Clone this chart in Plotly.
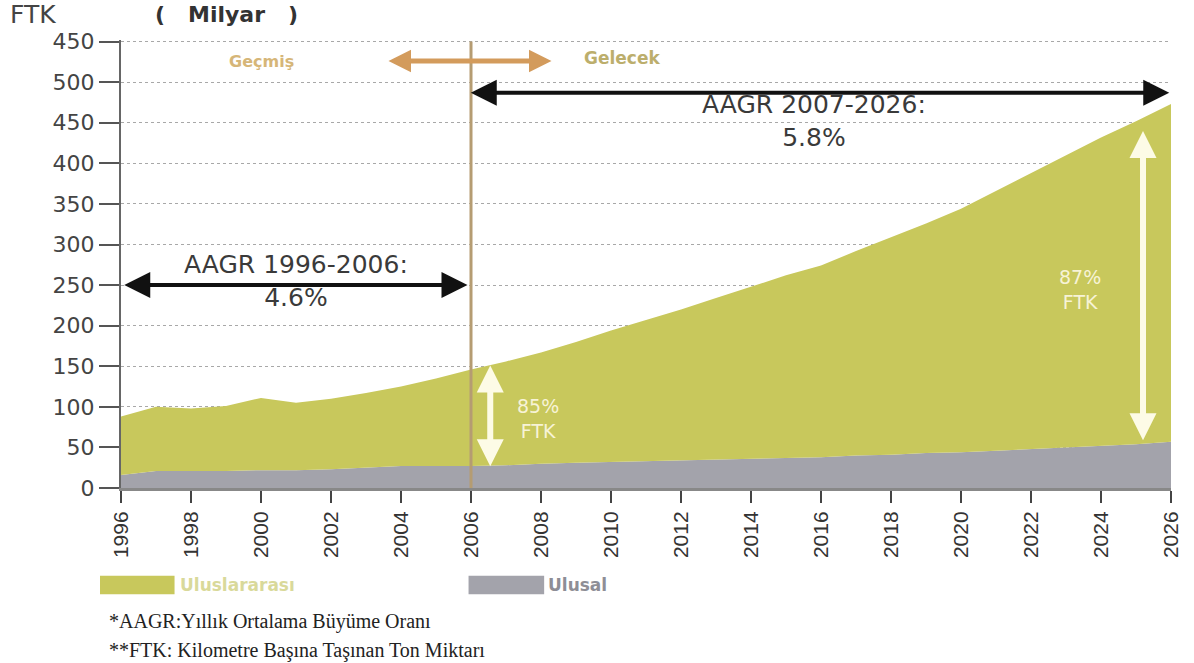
import plotly.graph_objects as go

years = list(range(1996, 2027))
ulusal = [16, 21, 21, 21, 22, 22, 23, 25, 27, 27, 27, 28, 30, 31, 32, 33, 34, 35,
          36, 37, 38, 40, 41, 43, 44, 46, 48, 50, 52, 54, 57]
toplam = [88, 100, 98, 101, 111, 105, 110, 117, 125, 135, 146, 156, 167, 180, 194,
          207, 220, 234, 248, 262, 274, 292, 309, 326, 344, 366, 388, 410, 432, 452, 473]
uluslararasi = [t - u for t, u in zip(toplam, ulusal)]

ytick_vals = [0, 50, 100, 150, 200, 250, 300, 350, 400, 450, 500, 550]
ytick_text = ["0", "50", "100", "150", "200", "250", "300", "350", "400", "450", "500", "450"]
xtick_vals = list(range(1996, 2027, 2))

GREEN = "#c8c85c"
GRAY = "#a3a3ab"
FONT = "DejaVu Sans"

fig = go.Figure()
fig.add_trace(go.Scatter(x=years, y=ulusal, name="Ulusal", stackgroup="a",
                         mode="lines", line=dict(width=0), fillcolor=GRAY, showlegend=False))
fig.add_trace(go.Scatter(x=years, y=uluslararasi, name="Uluslararası", stackgroup="a",
                         mode="lines", line=dict(width=0), fillcolor=GREEN, showlegend=False))

# vertical divider at 2006
fig.add_shape(type="line", x0=2006, x1=2006, y0=0, y1=550, xref="x", yref="y",
              line=dict(color="#b59c72", width=3), layer="above")

ann = []
def arrow(x0, y0, x1, y1, color, width, size=1.0, head=2):
    ann.append(dict(x=x1, y=y1, ax=x0, ay=y0, xref="x", yref="y", axref="x", ayref="y",
                    showarrow=True, arrowhead=head, startarrowhead=head, arrowside="end+start",
                    arrowsize=size, startarrowsize=size, arrowwidth=width, arrowcolor=color, text=""))

arrow(2005.95, 487, 2025.95, 487, "#111111", 4, 1.3)
arrow(1996.05, 250, 2005.9, 250, "#111111", 4, 1.3)
arrow(2003.6, 526, 2008.3, 526, "#d39b5c", 5, 0.9)
arrow(2006.55, 25, 2006.55, 151, "#fdfbe6", 6, 0.9)
arrow(2025.2, 57, 2025.2, 440, "#fdfbe6", 6, 0.9)

def text(x, y, s, size, color, xref="x", yref="y", xanchor="center", family=FONT):
    ann.append(dict(x=x, y=y, xref=xref, yref=yref, text=s, showarrow=False,
                    xanchor=xanchor, yanchor="middle",
                    font=dict(family=family, size=size, color=color)))

text(2015.8, 452, "AAGR 2007-2026:<br>5.8%", 25, "#3a3a3a")
text(2001.0, 255, "AAGR 1996-2006:<br>4.6%", 25, "#3a3a3a")
text(2000.0, 526, "<b>Geçmiş</b>", 16, "#d6b678")
text(2010.3, 530, "<b>Gelecek</b>", 17, "#bcae6c")
text(2007.9, 86, "85%<br>FTK", 19, "#f7f3d6")
text(2023.4, 244, "87%<br>FTK", 19, "#f7f3d6")

# title pieces
text(-0.108, 1.056, "FTK", 25, "#444444", "paper", "paper", "left")
text(0.03, 1.056, "<b>(   Milyar   )</b>", 22, "#333333", "paper", "paper", "left")

# custom legend
text(0.054, -0.216, "<b>Uluslararası</b>", 17, "#d9d99a", "paper", "paper", "left")
text(0.405, -0.216, "<b>Ulusal</b>", 17, "#8e8e96", "paper", "paper", "left")
text(-0.013, -0.299, "*AAGR:Yıllık Ortalama Büyüme Oranı", 20, "#222222", "paper", "paper", "left", "Liberation Serif")
text(-0.013, -0.362, "**FTK: Kilometre Başına Taşınan Ton Miktarı", 20, "#222222", "paper", "paper", "left", "Liberation Serif")

fig.add_shape(type="rect", xref="paper", yref="paper", x0=-0.02, x1=0.051, y0=-0.237, y1=-0.196,
              fillcolor=GREEN, line=dict(width=0))
fig.add_shape(type="rect", xref="paper", yref="paper", x0=0.331, x1=0.403, y0=-0.237, y1=-0.196,
              fillcolor=GRAY, line=dict(width=0))

fig.update_layout(
    width=1194, height=663,
    margin=dict(l=121, r=20, t=40, b=175),
    paper_bgcolor="white", plot_bgcolor="white",
    annotations=ann,
    font=dict(family=FONT),
    xaxis=dict(range=[1996, 2026], tickvals=xtick_vals, tickangle=-90,
               ticks="outside", ticklen=12, tickwidth=2, tickcolor="#444",
               showline=True, linecolor="#888", linewidth=3, showgrid=False, zeroline=False,
               tickfont=dict(family="Liberation Sans", size=21, color="#333")),
    yaxis=dict(range=[0, 552], tickvals=ytick_vals, ticktext=ytick_text,
               ticks="outside", ticklen=20, tickwidth=2, tickcolor="#555",
               showline=True, linecolor="#666", linewidth=2,
               showgrid=True, gridcolor="#a8a8a8", griddash="dot", gridwidth=1,
               zeroline=False,
               tickfont=dict(family=FONT, size=22, color="#444")),
)

fig.write_html("out.html")
